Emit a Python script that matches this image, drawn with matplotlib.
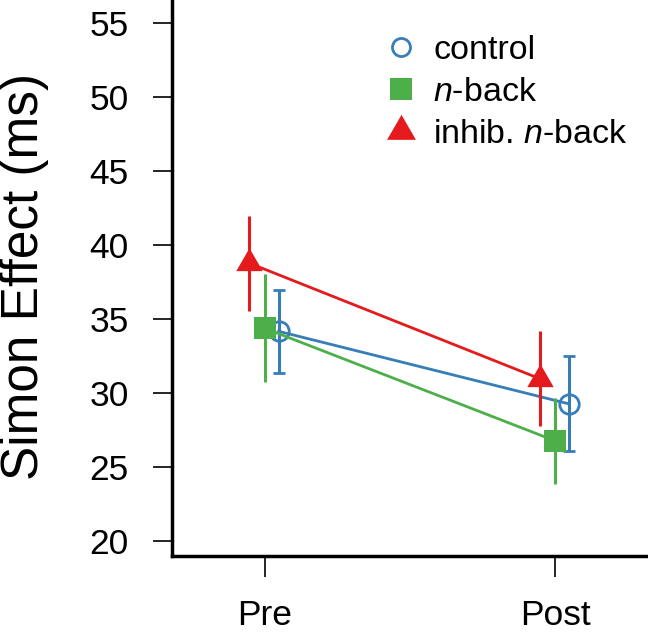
import matplotlib
matplotlib.use('Agg')
import matplotlib.pyplot as plt
from matplotlib.lines import Line2D

plt.rcParams['font.family'] = ['Liberation Sans', 'DejaVu Sans']
plt.rcParams['mathtext.fontset'] = 'custom'
plt.rcParams['mathtext.rm'] = 'Liberation Sans'
plt.rcParams['mathtext.it'] = 'Liberation Sans:italic'

# data
sessions = ['Pre', 'Post']
groups = ['control', '$n$-back', 'inhib. $n$-back']
control_mean = [34.15, 29.25]
control_err = [2.8, 3.2]
nback_mean = [34.35, 26.75]
nback_err = [3.65, 2.9]
inhib_mean = [38.75, 30.95]
inhib_err = [3.2, 3.2]

colors = ['#377EB8', '#4DAF4A', '#E41A1C']
offsets = [0.047, 0.0, -0.053]

fig = plt.figure(figsize=(6.48, 6.34), dpi=100)
ax = fig.add_axes([172 / 648, 78 / 634, 476 / 648, 556 / 634])

x = [1, 2]

# control: open circles
xc = [v + offsets[0] for v in x]
ax.errorbar(xc, control_mean, yerr=control_err, color=colors[0], lw=2,
            elinewidth=2.2, capsize=4, capthick=2, marker='o', ms=14,
            mfc='none', mec=colors[0], mew=2, zorder=2)

# n-back: filled squares
xn = [v + offsets[1] for v in x]
ax.errorbar(xn, nback_mean, yerr=nback_err, color=colors[1], lw=2,
            elinewidth=2.2, capsize=4, capthick=2, marker='s', ms=16.5,
            mfc=colors[1], mec=colors[1], mew=0, zorder=3)

# inhib n-back: filled triangles
xi = [v + offsets[2] for v in x]
ax.errorbar(xi, inhib_mean, yerr=inhib_err, color=colors[2], lw=2,
            elinewidth=2.2, capsize=4, capthick=2, marker=(3, 0, 0), ms=22,
            mfc=colors[2], mec=colors[2], mew=0, zorder=4)

ax.set_xlim(0.68, 2.32)
ax.set_ylim(18.97, 56.53)
ax.set_xticks(x)
ax.set_xticklabels(sessions)
ax.set_yticks(range(20, 60, 5))

for s in ['top', 'right']:
    ax.spines[s].set_visible(False)
for s in ['left', 'bottom']:
    ax.spines[s].set_linewidth(2.5)

ax.tick_params(axis='y', length=14, width=1.2, pad=17, labelsize=25.5)
ax.tick_params(axis='x', length=15, width=1.2, pad=16, labelsize=25.5)

fig.text(25 / 648, 1 - 277 / 634, 'Simon Effect (ms)', rotation=90,
         ha='center', va='center', fontsize=37)

handles = [
    Line2D([], [], ls='none', marker='o', ms=13, mfc='none', mec=colors[0], mew=2),
    Line2D([], [], ls='none', marker='s', ms=16, mfc=colors[1], mec=colors[1], mew=0),
    Line2D([], [], ls='none', marker=(3, 0, 0), ms=24, mfc=colors[2], mec=colors[2], mew=0),
]
ax.legend(handles, groups, loc='upper left', bbox_to_anchor=(0.42, 0.962),
          frameon=False, fontsize=24.5, handlelength=0.9, handletextpad=0.5,
          labelspacing=0.32, borderaxespad=0)

fig.savefig('out.png', dpi=100)
